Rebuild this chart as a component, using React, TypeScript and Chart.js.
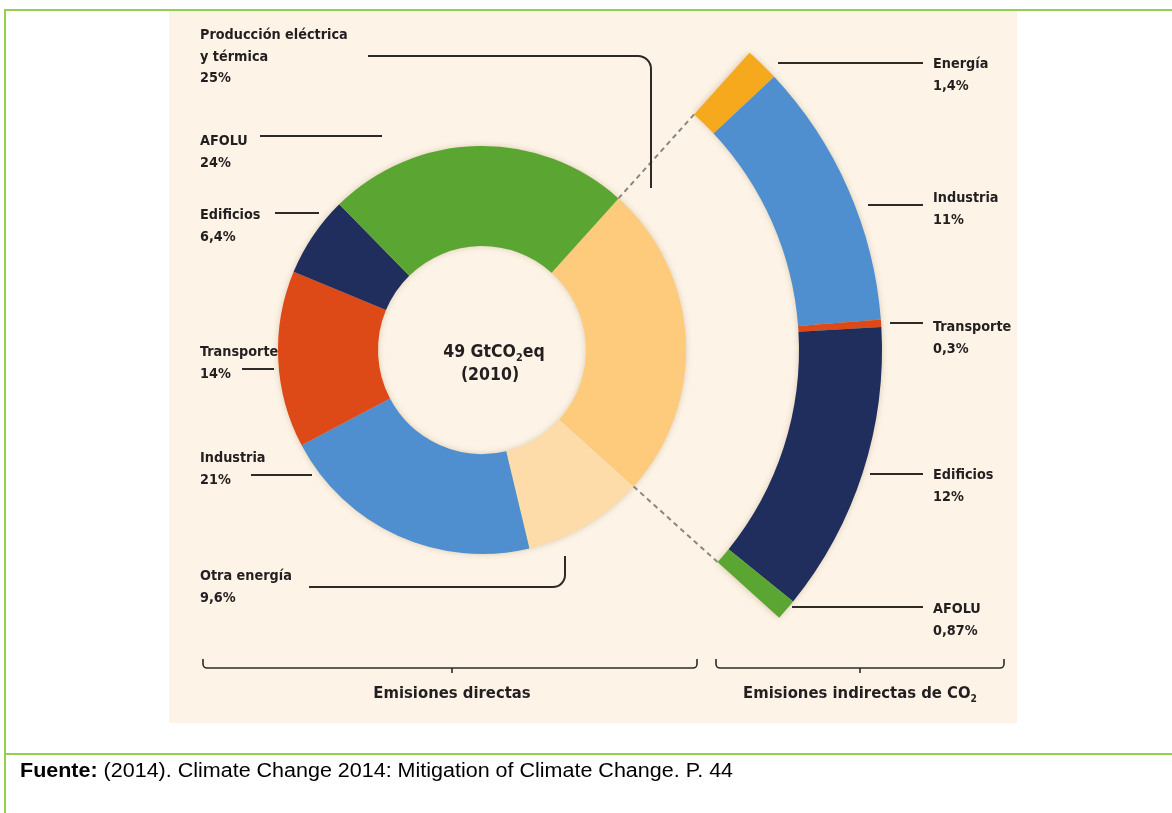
import React, { useEffect, useRef } from 'react';
import { Chart, registerables } from 'chart.js';

Chart.register(...registerables);

// ---- data ----
const directLabels = ['Producción eléctrica y térmica', 'Otra energía', 'Industria', 'Transporte', 'Edificios', 'AFOLU'];
const directValues = [25, 9.6, 21, 14, 6.4, 24];
const directColors = ['#FDCB7B', '#FDDCAA', '#4F8FD0', '#DD4A18', '#1F2E5C', '#5BA533'];

const indirectLabels = ['Energía', 'Industria', 'Transporte', 'Edificios', 'AFOLU'];
const indirectValues = [1.4, 11, 0.3, 12, 0.87];
const indirectColors = ['#F6A91C', '#4F8FD0', '#DD4A18', '#1F2E5C', '#5BA533'];

const centerLines = ['49 GtCO₂eq', '(2010)'];
const groupTitles = ['Emisiones directas', 'Emisiones indirectas de CO₂'];
const sourceText = '(2014). Climate Change 2014: Mitigation of Climate Change. P. 44';

const pct = (v: number) => String(v).replace('.', ',') + '%';

// ---- layout (not data) ----
const W = 1172;
const H = 813;
const ROTATION = 42;
const LABEL_FONT = '"DejaVu Sans Condensed", "DejaVu Sans", sans-serif';
const TEXT_COLOR = '#231f20';
const LINE_COLOR = '#2d2a28';

// label block positions [left, firstBaseline]
const directLabelPos: [number, number][] = [
  [200, 40],   // Producción
  [200, 581],  // Otra energía
  [200, 463],  // Industria
  [200, 357],  // Transporte
  [200, 220],  // Edificios
  [200, 146],  // AFOLU
];
const indirectLabelPos: [number, number][] = [
  [933, 69],
  [933, 203],
  [933, 332],
  [933, 480],
  [933, 614],
];

const overlayPlugin = {
  id: 'overlay',
  beforeDatasetsDraw(chart: any) {
    const ctx = chart.ctx as CanvasRenderingContext2D;
    [0, 2].forEach((i) => {
      const meta = chart.getDatasetMeta(i);
      const arcs = meta.data as any[];
      if (!arcs.length) return;
      const p0 = arcs[0].getProps(['x', 'y', 'innerRadius', 'outerRadius', 'startAngle'], true);
      const pe = arcs[arcs.length - 1].getProps(['endAngle'], true);
      ctx.save();
      ctx.shadowColor = 'rgba(120,80,30,0.35)';
      ctx.shadowBlur = 7;
      ctx.fillStyle = '#d9c8ae';
      ctx.beginPath();
      ctx.arc(p0.x, p0.y, p0.outerRadius - 1, p0.startAngle, pe.endAngle);
      ctx.arc(p0.x, p0.y, p0.innerRadius + 1, pe.endAngle, p0.startAngle, true);
      ctx.closePath();
      ctx.fill();
      ctx.restore();
    });
  },
  afterDraw(chart: any) {
    const ctx = chart.ctx as CanvasRenderingContext2D;
    // dashed connectors from the first direct slice to the indirect arc
    const inner = chart.getDatasetMeta(2).data[0] as any;
    const outer = chart.getDatasetMeta(0).data[0] as any;
    if (inner && outer) {
      const a = inner.getProps(['x', 'y', 'outerRadius', 'startAngle', 'endAngle'], true);
      const b = outer.getProps(['innerRadius'], true);
      ctx.save();
      ctx.strokeStyle = '#8a8580';
      ctx.lineWidth = 2;
      ctx.setLineDash([5, 4]);
      [a.startAngle, a.endAngle].forEach((ang: number) => {
        ctx.beginPath();
        ctx.moveTo(a.x + a.outerRadius * Math.cos(ang), a.y + a.outerRadius * Math.sin(ang));
        ctx.lineTo(a.x + b.innerRadius * Math.cos(ang), a.y + b.innerRadius * Math.sin(ang));
        ctx.stroke();
      });
      ctx.restore();
    }

    ctx.save();
    ctx.strokeStyle = LINE_COLOR;
    ctx.lineWidth = 2;
    ctx.lineCap = 'butt';
    const seg = (x1: number, y1: number, x2: number, y2: number) => {
      ctx.beginPath();
      ctx.moveTo(x1, y1);
      ctx.lineTo(x2, y2);
      ctx.stroke();
    };
    // Producción leader with rounded corner
    ctx.beginPath();
    ctx.moveTo(368, 56);
    ctx.arcTo(651, 56, 651, 80, 13);
    ctx.lineTo(651, 188);
    ctx.stroke();
    // Otra energía leader
    ctx.beginPath();
    ctx.moveTo(309, 587);
    ctx.arcTo(565, 587, 565, 560, 12);
    ctx.lineTo(565, 556);
    ctx.stroke();
    seg(260, 136, 382, 136);
    seg(275, 213, 319, 213);
    seg(242, 369, 274, 369);
    seg(251, 475, 312, 475);
    seg(778, 63, 923, 63);
    seg(868, 205, 923, 205);
    seg(890, 323, 923, 323);
    seg(870, 474, 923, 474);
    seg(792, 607, 923, 607);

    // group brackets
    const bracket = (x1: number, x2: number, xm: number) => {
      const y = 668;
      const r = 4;
      ctx.beginPath();
      ctx.moveTo(x1, y - 9);
      ctx.lineTo(x1, y - r);
      ctx.arcTo(x1, y, x1 + r, y, r);
      ctx.lineTo(x2 - r, y);
      ctx.arcTo(x2, y, x2, y - r, r);
      ctx.lineTo(x2, y - 9);
      ctx.stroke();
      seg(xm, y, xm, y + 5);
    };
    ctx.lineWidth = 1.6;
    bracket(203, 697, 452);
    bracket(716, 1004, 860);
    ctx.restore();
  },
};

function LabelBlock({ left, baseline, lines }: { left: number; baseline: number; lines: string[] }) {
  const fs = 14.3;
  const lh = 21.5;
  const top = baseline - ((lh - fs * 1.164) / 2 + fs * 0.928);
  return (
    <div
      style={{
        position: 'absolute',
        left,
        top,
        fontFamily: LABEL_FONT,
        fontStretch: 'condensed',
        fontWeight: 700,
        fontSize: fs,
        lineHeight: `${lh}px`,
        color: TEXT_COLOR,
        whiteSpace: 'nowrap',
      }}
    >
      {lines.map((l, i) => (
        <div key={i}>{l}</div>
      ))}
    </div>
  );
}

function withSub(s: string) {
  const idx = s.indexOf('₂');
  if (idx < 0) return s;
  return (
    <>
      {s.slice(0, idx)}
      <span style={{ fontSize: '0.62em', position: 'relative', top: '0.35em' }}>2</span>
      {s.slice(idx + 1)}
    </>
  );
}

export default function App() {
  const canvasRef = useRef<HTMLCanvasElement | null>(null);

  useEffect(() => {
    if (!canvasRef.current) return;
    const total = directValues.reduce((a, b) => a + b, 0);
    const chart = new Chart(canvasRef.current, {
      type: 'doughnut',
      data: {
        labels: directLabels,
        datasets: [
          {
            label: 'Emisiones indirectas de CO₂',
            data: indirectValues,
            backgroundColor: indirectColors,
            borderWidth: 0,
            rotation: ROTATION,
            circumference: (directValues[0] / total) * 360,
            weight: 83,
          } as any,
          {
            label: 'spacer',
            data: [1],
            backgroundColor: 'rgba(0,0,0,0)',
            borderWidth: 0,
            rotation: ROTATION,
            circumference: 0.001,
            weight: 113,
          } as any,
          {
            label: 'Emisiones directas',
            data: directValues,
            backgroundColor: directColors,
            borderWidth: 0,
            rotation: ROTATION,
            circumference: 360,
            weight: 100,
          } as any,
        ],
      },
      options: {
        responsive: false,
        animation: false,
        devicePixelRatio: 1,
        radius: 400,
        cutout: '26%',
        events: [],
        layout: { padding: { left: 0, top: 0, right: 208, bottom: 113 } },
        plugins: { legend: { display: false }, tooltip: { enabled: false } },
      } as any,
      plugins: [overlayPlugin],
    });
    return () => chart.destroy();
  }, []);

  const directTexts: string[][] = [
    ['Producción eléctrica', 'y térmica', pct(directValues[0])],
    ...directLabels.slice(1).map((l, i) => [l, pct(directValues[i + 1])]),
  ];
  const indirectTexts = indirectLabels.map((l, i) => [l, pct(indirectValues[i])]);

  const green = '#92D050';
  const centerStyle = {
    position: 'absolute' as const,
    width: 200,
    textAlign: 'center' as const,
    fontFamily: LABEL_FONT,
    fontStretch: 'condensed',
    fontWeight: 700,
    fontSize: 17.5,
    lineHeight: '22px',
    color: TEXT_COLOR,
    whiteSpace: 'nowrap' as const,
  };

  return (
    <div style={{ position: 'absolute', left: 0, top: 0, width: W, height: H, background: '#fff', overflow: 'hidden' }}>
      <div style={{ position: 'absolute', left: 169, top: 11, width: 848, height: 712, background: '#FDF4E7' }} />
      <div style={{ position: 'absolute', left: 4, top: 9, width: W - 4, height: 2, background: green }} />
      <div style={{ position: 'absolute', left: 4, top: 9, width: 2, height: H - 9, background: green }} />
      <div style={{ position: 'absolute', left: 4, top: 753, width: W - 4, height: 2, background: green }} />
      <canvas ref={canvasRef} width={W} height={H} style={{ position: 'absolute', left: 0, top: 0, width: W, height: H }} />

      {directTexts.map((lines, i) => (
        <LabelBlock key={'d' + i} left={directLabelPos[i][0]} baseline={directLabelPos[i][1]} lines={lines} />
      ))}
      {indirectTexts.map((lines, i) => (
        <LabelBlock key={'i' + i} left={indirectLabelPos[i][0]} baseline={indirectLabelPos[i][1]} lines={lines} />
      ))}

      <div style={{ ...centerStyle, left: 494 - 100, top: 340 }}>{withSub(centerLines[0])}</div>
      <div style={{ ...centerStyle, left: 490 - 100, top: 363 }}>{centerLines[1]}</div>

      {[452, 860].map((cx, i) => (
        <div
          key={'g' + i}
          style={{
            position: 'absolute',
            left: cx - 200,
            width: 400,
            top: 683,
            textAlign: 'center',
            fontFamily: LABEL_FONT,
            fontStretch: 'condensed',
            fontWeight: 700,
            fontSize: 16.5,
            lineHeight: '20px',
            color: TEXT_COLOR,
            whiteSpace: 'nowrap',
          }}
        >
          {withSub(groupTitles[i])}
        </div>
      ))}

      <div
        style={{
          position: 'absolute',
          left: 20,
          top: 760,
          fontFamily: '"Liberation Sans", Arial, sans-serif',
          fontSize: 20,
          lineHeight: '20px',
          color: '#000',
          whiteSpace: 'nowrap',
          transform: 'scaleX(1.075)',
          transformOrigin: 'left top',
        }}
      >
        <b>Fuente:</b> {sourceText}
      </div>
    </div>
  );
}
